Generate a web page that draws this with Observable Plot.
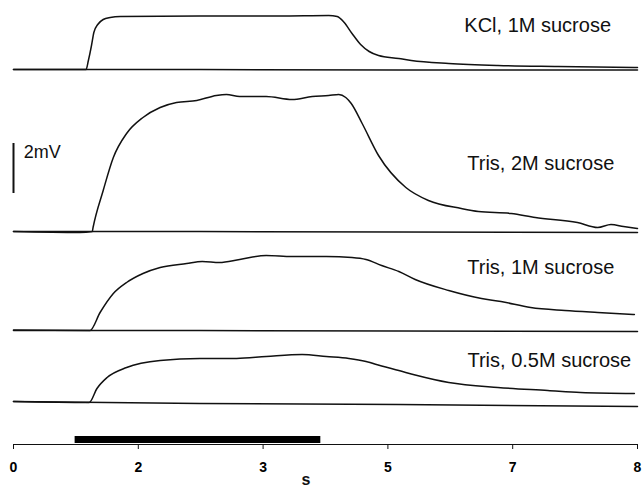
<!DOCTYPE html>
<html>
<head>
<meta charset="utf-8">
<script src="https://cdn.jsdelivr.net/npm/d3@7"></script>
<script src="https://cdn.jsdelivr.net/npm/@observablehq/plot@0.6"></script>
<style>
  html, body { margin: 0; padding: 0; background: #fff; }
  #chart svg { display: block; }
</style>
</head>
<body>
<div id="chart"></div>
<script>
// ---------- data (time in s, voltage in mV above each trace's baseline) ----------
const traceNames = ["KCl, 1M sucrose", "Tris, 2M sucrose", "Tris, 1M sucrose", "Tris, 0.5M sucrose"];

const kclT = [0, 0.60, 0.93, 0.96, 1.00, 1.03, 1.08, 1.15, 1.24, 1.37, 2.39, 3.41, 4.04, 4.15, 4.24, 4.34, 4.45, 4.56, 4.68, 4.94, 5.10, 5.58, 6.21, 6.98, 8.00];
const kclV = [0, 0, 0, 0.36, 0.96, 1.48, 1.80, 2.00, 2.08, 2.12, 2.14, 2.14, 2.16, 2.12, 1.88, 1.44, 1.00, 0.72, 0.56, 0.44, 0.36, 0.24, 0.16, 0.12, 0.08];

const tris2T = [0, 0.85, 1.01, 1.02, 1.15, 1.28, 1.45, 1.66, 1.88, 2.09, 2.35, 2.60, 2.73, 2.90, 3.24, 3.57, 3.83, 4.04, 4.17, 4.26, 4.33, 4.47, 4.68, 5.03, 5.32, 5.74, 5.96, 6.38, 6.69, 7.23, 7.49, 7.66, 7.82, 8.00];
const tris2V = [0, -0.04, 0, 0.16, 1.64, 2.96, 3.92, 4.56, 4.96, 5.16, 5.24, 5.44, 5.48, 5.40, 5.40, 5.28, 5.40, 5.44, 5.48, 5.36, 5.12, 4.32, 3.04, 1.76, 1.24, 0.92, 0.80, 0.72, 0.56, 0.36, 0.16, 0.28, 0.20, 0.12];

const tris1T = [0, 0.98, 1.11, 1.28, 1.45, 1.66, 1.88, 2.22, 2.42, 2.64, 2.90, 3.24, 3.57, 4.01, 4.34, 4.52, 4.72, 4.94, 5.15, 5.58, 6.00, 6.25, 6.63, 7.07, 7.49, 7.96];
const tris1V = [0.02, 0, 0.72, 1.48, 1.92, 2.28, 2.52, 2.68, 2.76, 2.72, 2.84, 3.00, 2.96, 2.96, 2.92, 2.84, 2.60, 2.36, 2.04, 1.60, 1.28, 1.16, 0.92, 0.80, 0.72, 0.64];

const tris05T = [0, 0.97, 1.07, 1.20, 1.45, 1.88, 2.39, 2.86, 3.24, 3.70, 4.01, 4.30, 4.52, 4.72, 4.94, 5.15, 5.58, 6.21, 6.85, 7.27, 7.96];
const tris05V = [0.04, 0, 0.56, 1.00, 1.40, 1.68, 1.76, 1.76, 1.84, 1.92, 1.84, 1.76, 1.64, 1.46, 1.28, 1.10, 0.80, 0.60, 0.48, 0.40, 0.36];

// baselines (control traces), mV relative to each trace's baseline
const baseT = [0, 2.39, 4.94, 8.00];
const kclBase = [0, 0, -0.02, -0.02];
const tris2Base = [0, 0, -0.02, -0.04];
const tris1Base = [0, 0, -0.02, -0.04];
const tris05Base = [0.04, -0.04, -0.08, -0.16];

// stimulus period (s)
const stimStart = 0.79;
const stimEnd = 3.94;

// x-axis ticks
const xTicks = [0, 1.6, 3.2, 4.8, 6.4, 8];
const xTickLabels = ["0", "2", "3", "5", "7", "8"];

// scale bar
const scaleBarMV = 2;
const scaleBarLabel = "2mV";

// ---------- layout (vertical stacking of the traces, in mV above axis) ----------
const panelOffset = [15.0, 8.52, 4.56, 1.68];
const labelX = [6.72, 6.76, 6.76, 6.87];
const labelY = [16.76, 11.24, 7.08, 3.36];
const scaleBarBottom = 10.04;

const traces = [[kclT, kclV], [tris2T, tris2V], [tris1T, tris1V], [tris05T, tris05V]];
const bases = [kclBase, tris2Base, tris1Base, tris05Base];

const traceRows = traces.flatMap(([T, V], k) =>
  T.map((t, i) => ({id: traceNames[k], t, v: V[i] + panelOffset[k]})));
const baseRows = bases.flatMap((B, k) =>
  baseT.map((t, i) => ({id: traceNames[k], t, v: B[i] + panelOffset[k]})));
const labelRows = traceNames.map((name, k) => ({name, x: labelX[k], y: labelY[k]}));
const tickLabelMap = new Map(xTicks.map((d, i) => [d, xTickLabels[i]]));

const chart = Plot.plot({
  width: 642,
  height: 489,
  marginLeft: 13,
  marginRight: 5,
  marginTop: 0,
  marginBottom: 45,
  style: {fontFamily: "'Liberation Sans', Arial, Helvetica, sans-serif", background: "#fff", color: "#000"},
  x: {domain: [0, 8], axis: null},
  y: {domain: [0, 17.76], axis: null},
  marks: [
    Plot.line(baseRows, {x: "t", y: "v", z: "id", stroke: "#111", strokeWidth: 1.5}),
    Plot.line(traceRows, {x: "t", y: "v", z: "id", stroke: "#111", strokeWidth: 1.5, curve: "monotone-x"}),
    Plot.text(labelRows, {x: "x", y: "y", text: "name", fontSize: 20, textAnchor: "middle", fill: "#111"}),
    Plot.ruleX([0], {y1: scaleBarBottom, y2: scaleBarBottom + scaleBarMV, stroke: "#111", strokeWidth: 2}),
    Plot.text([scaleBarLabel], {x: 0.13, y: scaleBarBottom + scaleBarMV - 0.36, text: d => d, fontSize: 18, textAnchor: "start", fill: "#111"}),
    Plot.rect([{s: stimStart, e: stimEnd}], {x1: "s", x2: "e", y1: 0.04, y2: 0.32, fill: "#000"}),
    Plot.ruleY([0], {stroke: "#111", strokeWidth: 1.2}),
    Plot.axisX(xTicks, {
      anchor: "bottom",
      tickSize: 5,
      tickPadding: 13,
      tickFormat: d => tickLabelMap.get(d),
      fontSize: 14,
      fontWeight: "bold",
      label: null,
      stroke: "#111"
    }),
    Plot.text(["s"], {x: 3.75, frameAnchor: "bottom", dy: 29, lineAnchor: "top", text: d => d, fontSize: 16, fontWeight: "bold", fill: "#111"})
  ]
});

document.getElementById("chart").appendChild(chart);
</script>
</body>
</html>
